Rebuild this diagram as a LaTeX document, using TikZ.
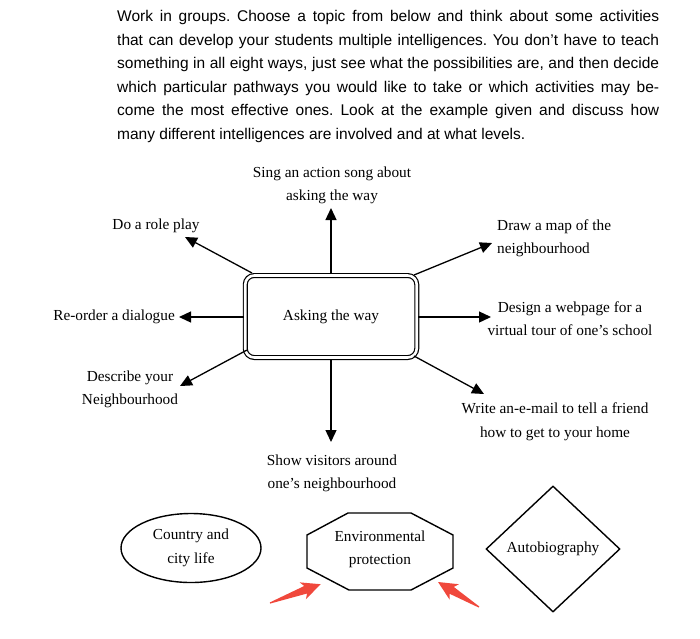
\documentclass[tikz,border=0pt]{standalone}
\usepackage{fontspec}
\setmainfont{Liberation Serif}
\newfontfamily\parafont{Liberation Sans}
\usetikzlibrary{shapes.geometric,arrows.meta}
\definecolor{redarrow}{RGB}{240,72,60}
\frenchspacing
\tikzset{
  lbl/.style={font=\fontsize{15.3}{23.5}\selectfont, align=center, inner sep=0pt},
  para/.style={font=\parafont\fontsize{15.5}{23.6}\selectfont, anchor=west, inner sep=0pt},
  conn/.style={line width=1.3pt, -{Triangle[length=12pt,width=11pt]}},
  topic/.style={draw, line width=1.4pt, inner sep=0pt, font=\fontsize{15.3}{23.5}\selectfont, align=center}
}
\newcommand\hintarrow[3]{%
  \begin{scope}[shift={(#1)}, rotate=#2]
    \fill[redarrow] (0,-0.6) -- (#3-16,-4) -- (#3-19,-9) -- (#3,0) -- (#3-19,9) -- (#3-16,4) -- (0,0.6) -- cycle;
  \end{scope}}
\begin{document}
\begin{tikzpicture}[x=1pt,y=-1pt]
\useasboundingbox (0,0) rectangle (700,638);
% paragraph
\node[para] (p1) at (117,17) {\makebox[542pt][s]{Work in groups. Choose a topic from below and think about some activities}};
\node[para] (p2) at (117,41) {\makebox[542pt][s]{that can develop your students multiple intelligences. You don’t have to teach}};
\node[para] (p3) at (117,64) {\makebox[542pt][s]{something in all eight ways, just see what the possibilities are, and then decide}};
\node[para] (p4) at (117,88) {\makebox[542pt][s]{which particular pathways you would like to take or which activities may be-}};
\node[para] (p5) at (117,111) {\makebox[542pt][s]{come the most effective ones. Look at the example given and discuss how}};
\node[para] (p6) at (117,135) {many different intelligences are involved and at what levels.};
% central box
\node[draw, line width=1.2pt, double=white, double distance=2.6pt, rounded corners=9pt,
      minimum width=171.5pt, minimum height=82pt, inner sep=0pt,
      font=\fontsize{15.3}{18}\selectfont] (c) at (331,316.5) {Asking the way};
% labels
\node[lbl] (sing) at (332,185.5) {Sing an action song about\\asking the way};
\node[lbl] (role) at (156,226) {Do a role play};
\node[lbl, align=left, anchor=west] (map) at (497,238.5) {Draw a map of the\\neighbourhood};
\node[lbl, anchor=east] (reorder) at (175,317) {Re-order a dialogue};
\node[lbl] (design) at (570,318.5) {Design a webpage for a\\virtual tour of one’s school};
\node[lbl] (describe) at (130,389.5) {Describe your\\Neighbourhood};
\node[lbl] (email) at (555,422) {Write an-e-mail to tell a friend\\how to get to your home};
\node[lbl] (show) at (332,473.5) {Show visitors around\\one’s neighbourhood};
% arrow ends
\coordinate (sN) at (331,274);   \coordinate (tN) at (331,208);
\coordinate (sNW) at (252,273);  \coordinate (tNW) at (185,237);
\coordinate (sNE) at (414,275);  \coordinate (tNE) at (492,243);
\coordinate (sW) at (244,317);   \coordinate (tW) at (179,317);
\coordinate (sE) at (418,317);   \coordinate (tE) at (491,317);
\coordinate (sSW) at (247,350);  \coordinate (tSW) at (180,386);
\coordinate (sS) at (331,359);   \coordinate (tS) at (331,442);
\coordinate (sSE) at (414,356);  \coordinate (tSE) at (484,394);
\draw[conn] (sN) -- (tN);
\draw[conn] (sNW) -- (tNW);
\draw[conn] (sNE) -- (tNE);
\draw[conn] (sW) -- (tW);
\draw[conn] (sE) -- (tE);
\draw[conn] (sSW) -- (tSW);
\draw[conn] (sS) -- (tS);
\draw[conn] (sSE) -- (tSE);
% topics
\node[topic, ellipse, minimum width=140pt, minimum height=69pt] (country) at (191,548) {Country and\\city life};
\draw[line width=1.4pt] (348,513) -- (411,513) -- (453,535) -- (453,568) -- (411,590) -- (349,590) -- (307,568) -- (307,535) -- cycle;
\node[lbl] (env) at (380,549.5) {Environmental\\protection};
\node[topic, diamond, minimum width=134pt, minimum height=126pt] (auto) at (553,549) {Autobiography};
% red hint arrows
\coordinate (h1s) at (270,603);
\coordinate (h2s) at (479,607);
\hintarrow{h1s}{20.4}{54}
\hintarrow{h2s}{148.6}{48}
\end{tikzpicture}
\end{document}
